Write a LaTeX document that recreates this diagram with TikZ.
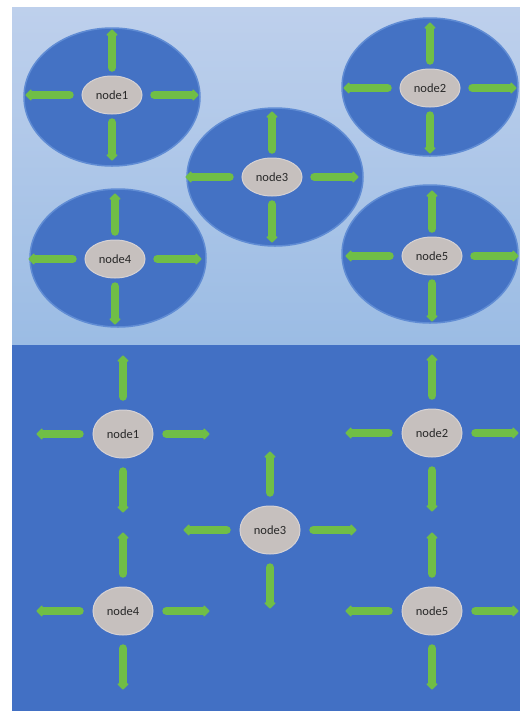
\documentclass[tikz,border=0pt]{standalone}
\usepackage{fontspec}
\setmainfont{Carlito}
\usetikzlibrary{arrows.meta,shapes.geometric}
\definecolor{panelTop}{RGB}{190,208,236}
\definecolor{panelBot}{RGB}{155,188,228}
\definecolor{bluebg}{RGB}{66,112,196}
\definecolor{bigfill}{RGB}{68,114,196}
\definecolor{bigedge}{RGB}{96,140,212}
\definecolor{innerfill}{RGB}{198,192,190}
\definecolor{inneredge}{RGB}{214,210,212}
\definecolor{arrowgreen}{RGB}{112,190,70}
\definecolor{txt}{RGB}{40,40,40}
\newcommand\spokes[5]{%
  \draw[arr,shorten <=#2] (#1.north) -- ++(0,-#3);
  \draw[arr,shorten <=#2] (#1.south) -- ++(0,#3);
  \draw[arr,shorten <=#4] (#1.west) -- ++(-#5,0);
  \draw[arr,shorten <=#4] (#1.east) -- ++(#5,0);
}
\begin{document}
\begin{tikzpicture}[x=1pt,y=-1pt,
  bigell/.style={ellipse, fill=bigfill, draw=bigedge, line width=1.5pt,
    minimum width=176pt, minimum height=138pt, inner sep=0pt},
  innertop/.style={ellipse, fill=innerfill, draw=inneredge, line width=1pt,
    minimum width=60pt, minimum height=38pt, inner sep=0pt, text=txt,
    font=\fontsize{12.5}{14}\selectfont},
  innerbot/.style={innertop, minimum height=48pt},
  arr/.style={draw=arrowgreen, line width=8.5pt, line cap=round,
    -{Triangle[length=6.5pt,width=13pt,round]}}]
\useasboundingbox (0,0) rectangle (520,713);
\fill[white] (0,0) rectangle (520,713);
\shade[top color=panelTop, bottom color=panelBot] (12,7) rectangle (520,345);
\fill[bluebg] (12,345) rectangle (520,711);
% top panel
\node[bigell] (E1) at (112,97) {};
\node[bigell] (E2) at (430,87) {};
\node[bigell] (E3) at (275,177) {};
\node[bigell] (E4) at (118,258) {};
\node[bigell] (E5) at (430,254) {};
\node[innertop] (t1) at (112,95) {node1};
\node[innertop] (t2) at (430,88) {node2};
\node[innertop] (t3) at (272,177) {node3};
\node[innertop] (t4) at (115,259) {node4};
\node[innertop] (t5) at (432,256) {node5};
\foreach \n in {t1,t2,t3,t4,t5}{\spokes{\n}{8pt}{46}{12pt}{56}}
% bottom panel
\node[innerbot] (b1) at (123,434) {node1};
\node[innerbot] (b2) at (432,433) {node2};
\node[innerbot] (b3) at (270,530) {node3};
\node[innerbot] (b4) at (123,611) {node4};
\node[innerbot] (b5) at (432,611) {node5};
\foreach \n in {b1,b2,b3,b4,b5}{\spokes{\n}{13pt}{54}{13pt}{56}}
\end{tikzpicture}
\end{document}
